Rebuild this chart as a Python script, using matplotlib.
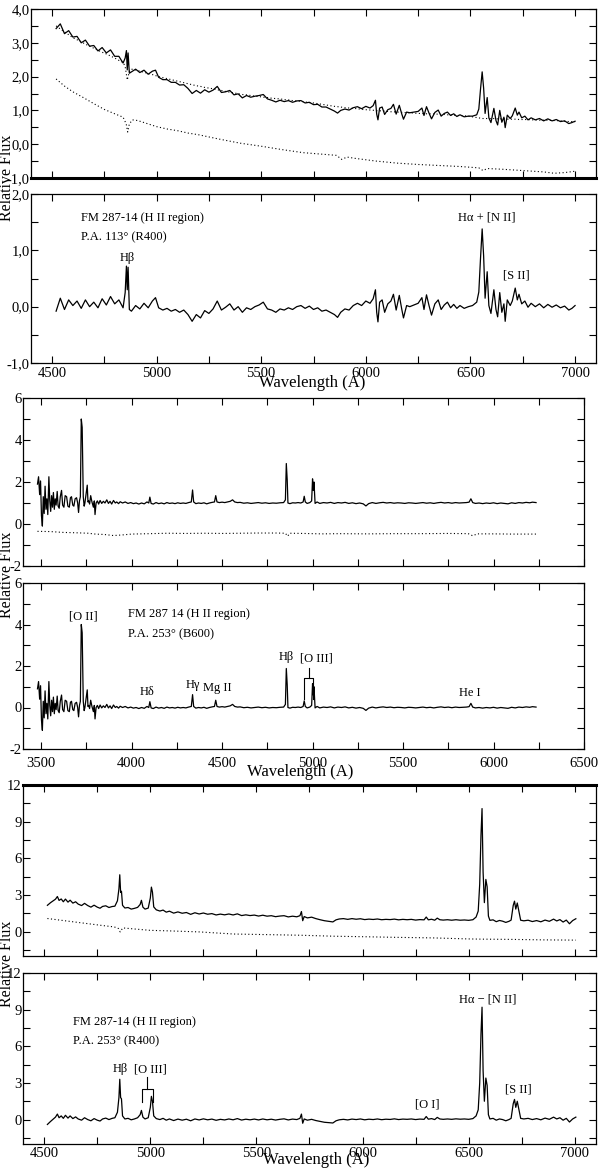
import matplotlib
matplotlib.use("Agg")
import matplotlib.pyplot as plt
import numpy as np
from matplotlib.ticker import MultipleLocator, FuncFormatter

plt.rcParams['font.family'] = ['Liberation Serif', 'DejaVu Serif']

# ---------------- group 1 : R400, P.A. 113 ----------------
w1 = [4520, 4540, 4560, 4580, 4600, 4620, 4640, 4660, 4680, 4700,
      4720, 4740, 4760, 4780, 4800, 4820, 4840, 4850, 4856, 4860,
      4864, 4870, 4880, 4900, 4920, 4940, 4960, 4980, 4995, 5010,
      5030, 5050, 5070, 5090, 5110, 5130, 5150, 5170, 5190, 5210,
      5230, 5250, 5270, 5290, 5310, 5330, 5350, 5370, 5390, 5410,
      5430, 5450, 5470, 5490, 5510, 5530, 5550, 5570, 5590, 5610,
      5630, 5650, 5670, 5690, 5710, 5730, 5750, 5770, 5790, 5810,
      5830, 5850, 5865, 5880, 5900, 5920, 5940, 5960, 5980, 6000,
      6020, 6035, 6046, 6052, 6058, 6066, 6078, 6090, 6105, 6120,
      6132, 6145, 6160, 6172, 6180, 6195, 6210, 6230, 6250, 6268,
      6278, 6290, 6302, 6314, 6330, 6346, 6360, 6375, 6390, 6405,
      6420, 6435, 6450, 6470, 6490, 6510, 6530, 6540, 6548, 6556,
      6563, 6570, 6580, 6588, 6598, 6612, 6622, 6630, 6640, 6650,
      6660, 6666, 6676, 6690, 6700, 6714, 6724, 6732, 6745, 6760,
      6775, 6790, 6810, 6830, 6850, 6870, 6890, 6910, 6930, 6950,
      6970, 6985, 7000]
# residual spectrum (lower panel)
res1 = [-0.08, 0.15, -0.05, 0.12, 0.02, 0.10, -0.03, 0.12, 0.00, 0.08,
        -0.02, 0.14, 0.03, 0.18, 0.05, 0.12, -0.02, 0.25, 0.72, 0.30,
        0.70, -0.05, -0.08, 0.02, -0.04, 0.06, -0.02, 0.10, 0.16, -0.02,
        -0.06, -0.03, -0.08, -0.05, -0.10, -0.06, -0.14, -0.26, -0.14, -0.20,
        -0.07, -0.12, -0.04, 0.10, -0.06, -0.01, 0.05, -0.06, 0.00, -0.10,
        -0.02, -0.05, 0.00, 0.03, 0.08, -0.04, -0.06, -0.10, -0.04, -0.06,
        -0.02, -0.05, 0.00, 0.02, -0.03, 0.01, -0.05, -0.02, -0.08, -0.06,
        -0.10, -0.14, -0.19, -0.10, -0.04, -0.06, 0.02, 0.06, 0.02, 0.10,
        0.06, 0.14, 0.30, -0.10, -0.27, 0.08, 0.12, -0.10, 0.05, 0.10,
        0.22, -0.06, 0.20, -0.05, -0.20, 0.02, 0.00, 0.03, 0.06, 0.16,
        -0.05, 0.21, 0.02, -0.15, 0.05, 0.12, -0.05, 0.03, 0.08, -0.02,
        0.04, -0.03, 0.02, -0.03, 0.00, 0.02, 0.08, 0.26, 0.85, 1.38,
        0.90, 0.15, 0.62, 0.02, -0.12, 0.30, -0.05, -0.18, 0.25, -0.10,
        0.05, -0.26, 0.12, 0.02, 0.10, 0.33, 0.12, 0.22, 0.05, 0.10,
        -0.01, 0.06, 0.00, 0.05, -0.02, 0.04, -0.01, 0.03, -0.02, 0.01,
        -0.06, -0.03, 0.02]
# fitted template (dotted curve over the observed spectrum)
fit1 = [3.50, 3.41, 3.32, 3.24, 3.15, 3.09, 3.03, 2.96, 2.90, 2.84,
        2.78, 2.72, 2.67, 2.61, 2.55, 2.48, 2.42, 2.30, 2.05, 1.90,
        2.00, 2.15, 2.22, 2.20, 2.16, 2.13, 2.09, 2.06, 2.03, 2.00,
        1.97, 1.94, 1.91, 1.88, 1.85, 1.82, 1.79, 1.76, 1.73, 1.71,
        1.68, 1.66, 1.64, 1.61, 1.59, 1.56, 1.54, 1.52, 1.49, 1.47,
        1.46, 1.44, 1.42, 1.41, 1.39, 1.38, 1.36, 1.35, 1.34, 1.32,
        1.31, 1.29, 1.28, 1.27, 1.25, 1.23, 1.22, 1.20, 1.18, 1.16,
        1.14, 1.12, 1.11, 1.10, 1.08, 1.07, 1.06, 1.05, 1.03, 1.02,
        1.01, 1.00, 1.00, 0.99, 0.99, 0.99, 0.98, 0.98, 0.97, 0.96,
        0.96, 0.95, 0.95, 0.94, 0.94, 0.93, 0.93, 0.92, 0.91, 0.91,
        0.90, 0.90, 0.90, 0.90, 0.89, 0.89, 0.88, 0.88, 0.87, 0.87,
        0.86, 0.85, 0.85, 0.84, 0.83, 0.81, 0.79, 0.78, 0.77, 0.76,
        0.76, 0.76, 0.76, 0.76, 0.76, 0.76, 0.75, 0.75, 0.75, 0.75,
        0.75, 0.75, 0.74, 0.74, 0.74, 0.74, 0.74, 0.73, 0.73, 0.73,
        0.73, 0.72, 0.72, 0.71, 0.71, 0.71, 0.70, 0.70, 0.69, 0.68,
        0.67, 0.67, 0.66]
# lower dotted template
low1_w = [4520, 4560, 4600, 4650, 4700, 4750, 4800, 4840, 4855, 4862,
          4870, 4885, 4910, 4950, 5000, 5050, 5100, 5150, 5200, 5300,
          5400, 5500, 5600, 5700, 5800, 5860, 5885, 5910, 5950, 6050,
          6150, 6250, 6350, 6450, 6540, 6560, 6580, 6650, 6750, 6850,
          6900, 6950, 7000]
low1 = [1.93, 1.72, 1.55, 1.38, 1.20, 1.03, 0.90, 0.80, 0.60, 0.36,
        0.60, 0.72, 0.70, 0.62, 0.52, 0.45, 0.40, 0.33, 0.28, 0.15,
        0.03, -0.06, -0.16, -0.25, -0.30, -0.33, -0.45, -0.38, -0.42, -0.50,
        -0.56, -0.60, -0.63, -0.66, -0.70, -0.78, -0.72, -0.74, -0.78, -0.82,
        -0.86, -0.84, -0.80]

# ---------------- group 2 : B600, P.A. 253 ----------------
w2 = [3480, 3486, 3492, 3497, 3502, 3507, 3512, 3517, 3522, 3527,
      3532, 3537, 3543, 3548, 3553, 3558, 3563, 3568, 3573, 3578,
      3583, 3589, 3594, 3600, 3606, 3613, 3619, 3626, 3633, 3641,
      3648, 3656, 3662, 3668, 3675, 3681, 3688, 3696, 3702, 3707,
      3712, 3717, 3722, 3727, 3733, 3738, 3742, 3748, 3755, 3759,
      3763, 3768, 3774, 3781, 3789, 3794, 3798, 3804, 3811, 3818,
      3826, 3835, 3844, 3853, 3863, 3872, 3881, 3890, 3900, 3910,
      3918, 3928, 3937, 3950, 3965, 3980, 3995, 4010, 4025, 4040,
      4055, 4070, 4085, 4095, 4101, 4108, 4120, 4135, 4150, 4165,
      4180, 4195, 4210, 4225, 4240, 4255, 4270, 4285, 4300, 4315,
      4330, 4337, 4343, 4355, 4370, 4385, 4400, 4415, 4430, 4445,
      4458, 4465, 4472, 4485, 4500, 4515, 4530, 4545, 4558, 4570,
      4585, 4600, 4620, 4640, 4660, 4680, 4700, 4720, 4740, 4760,
      4780, 4800, 4820, 4840, 4850, 4855, 4860, 4864, 4875, 4890,
      4905, 4920, 4935, 4948, 4954, 4960, 4970, 4985, 4995, 5000,
      5004, 5008, 5014, 5025, 5040, 5060, 5080, 5100, 5120, 5140,
      5160, 5180, 5200, 5220, 5240, 5260, 5280, 5295, 5310, 5330,
      5350, 5370, 5390, 5410, 5430, 5450, 5470, 5490, 5510, 5530,
      5550, 5570, 5590, 5610, 5630, 5650, 5670, 5690, 5710, 5730,
      5750, 5770, 5790, 5810, 5830, 5850, 5865, 5875, 5885, 5900,
      5920, 5940, 5960, 5980, 6000, 6020, 6040, 6060, 6080, 6100,
      6120, 6140, 6160, 6180, 6200, 6215, 6235]
res2 = [0.90, 1.25, 0.40, 1.05, -0.60, -1.10, 0.30, -0.50, 0.80, -0.30,
        0.20, -0.55, 1.25, 0.10, -0.40, 0.35, -0.20, 0.50, -0.30, 0.20,
        -0.10, 0.55, -0.15, -0.25, 0.30, 0.60, -0.10, -0.20, 0.35, 0.30,
        -0.15, -0.20, 0.25, 0.30, -0.10, -0.15, 0.20, 0.25, 0.00, -0.45,
        0.10, 0.30, 4.00, 3.60, 0.30, -0.15, 0.00, 0.40, 0.85, 0.05,
        0.10, -0.05, 0.35, 0.05, -0.20, 0.10, -0.55, 0.00, 0.10, -0.05,
        0.12, -0.02, 0.08, 0.00, 0.15, -0.02, 0.08, -0.05, 0.12, 0.00,
        0.05, -0.03, 0.06, 0.00, 0.05, -0.02, 0.02, -0.03, 0.00, -0.05,
        0.00, -0.04, 0.05, 0.00, 0.28, -0.02, -0.05, 0.02, -0.03, 0.00,
        -0.04, 0.02, -0.02, 0.00, -0.03, 0.01, -0.02, 0.00, -0.02, 0.02,
        0.05, 0.62, 0.05, -0.03, 0.00, -0.02, 0.01, -0.04, 0.00, 0.03,
        0.05, 0.35, 0.05, 0.02, 0.04, 0.02, 0.05, 0.08, 0.15, 0.05,
        0.02, 0.03, -0.01, 0.01, -0.02, 0.00, 0.02, -0.01, 0.01, -0.02,
        0.00, -0.01, 0.01, 0.02, 0.15, 1.88, 1.10, 0.00, -0.03, 0.01,
        0.00, 0.02, 0.00, 0.05, 0.32, 0.05, -0.02, 0.02, 0.10, 1.15,
        0.60, 1.00, -0.02, 0.05, -0.02, 0.02, 0.00, 0.03, -0.02, 0.02,
        0.00, 0.03, -0.02, 0.01, -0.03, 0.00, -0.04, -0.14, -0.03, 0.02,
        -0.02, 0.01, 0.03, 0.00, 0.02, -0.01, 0.01, 0.00, -0.02, 0.01,
        0.00, -0.02, 0.00, 0.02, -0.01, 0.01, -0.02, 0.01, 0.03, 0.00,
        0.02, -0.01, 0.02, 0.00, 0.01, 0.02, 0.04, 0.20, 0.02, -0.02,
        0.00, -0.03, 0.00, -0.02, 0.01, -0.03, 0.00, -0.02, -0.04, 0.01,
        -0.02, 0.02, 0.00, 0.03, 0.01, 0.04, 0.02]
NORM2 = 1.0  # normalised continuum level of the upper B600 panel
dot2_w = [3480, 3550, 3620, 3700, 3760, 3800, 3850, 3900, 3950, 4000,
          4100, 4200, 4300, 4400, 4500, 4600, 4700, 4800, 4850, 4862,
          4875, 4950, 5050, 5150, 5300, 5450, 5600, 5750, 5860, 5885,
          5910, 6000, 6100, 6235]
dot2 = [-0.35, -0.36, -0.40, -0.42, -0.44, -0.48, -0.50, -0.55, -0.52, -0.48,
        -0.46, -0.44, -0.45, -0.44, -0.45, -0.44, -0.43, -0.43, -0.44, -0.58,
        -0.44, -0.45, -0.47, -0.46, -0.47, -0.46, -0.46, -0.45, -0.46, -0.56,
        -0.47, -0.47, -0.48, -0.48]

# ---------------- group 3 : R400, P.A. 253 ----------------
w3 = [4515, 4530, 4543, 4553, 4562, 4570, 4580, 4590, 4600, 4612,
      4622, 4635, 4648, 4660, 4676, 4690, 4705, 4720, 4735, 4750,
      4763, 4775, 4790, 4805, 4820, 4833, 4845, 4852, 4856, 4860,
      4864, 4869, 4880, 4895, 4910, 4925, 4940, 4952, 4958, 4965,
      4975, 4990, 5000, 5005, 5010, 5016, 5028, 5045, 5060, 5075,
      5090, 5110, 5130, 5150, 5170, 5190, 5210, 5230, 5250, 5270,
      5290, 5310, 5330, 5350, 5370, 5390, 5410, 5430, 5450, 5470,
      5490, 5510, 5530, 5550, 5570, 5590, 5610, 5630, 5650, 5670,
      5690, 5705, 5712, 5718, 5725, 5740, 5760, 5780, 5800, 5820,
      5840, 5860, 5875, 5890, 5910, 5930, 5950, 5970, 5990, 6010,
      6030, 6050, 6070, 6090, 6110, 6130, 6150, 6170, 6190, 6210,
      6230, 6250, 6270, 6290, 6300, 6310, 6325, 6340, 6352, 6364,
      6380, 6400, 6420, 6440, 6460, 6480, 6500, 6520, 6535, 6545,
      6552, 6558, 6563, 6568, 6574, 6581, 6587, 6593, 6600, 6615,
      6630, 6645, 6660, 6675, 6690, 6700, 6710, 6716, 6722, 6729,
      6736, 6745, 6760, 6780, 6800, 6820, 6840, 6860, 6880, 6900,
      6915, 6930, 6945, 6960, 6975, 6990, 7005]
res3 = [-0.40, -0.15, 0.05, 0.20, 0.45, 0.15, 0.30, 0.10, 0.35, 0.12,
        0.30, 0.08, 0.22, 0.05, -0.05, 0.15, 0.00, -0.10, 0.08, -0.05,
        -0.12, 0.05, 0.12, 0.00, 0.10, 0.15, 0.60, 1.80, 3.30, 1.80,
        1.70, 0.30, 0.05, 0.10, -0.02, 0.05, 0.15, 0.40, 0.75, 0.20,
        0.05, 0.15, 1.00, 1.90, 1.50, 0.30, 0.08, 0.00, 0.10, -0.05,
        0.05, -0.08, 0.04, -0.05, 0.03, -0.10, 0.05, -0.03, 0.06, -0.02,
        0.04, -0.06, 0.02, -0.03, 0.05, -0.02, 0.08, -0.04, 0.03, -0.02,
        0.04, -0.03, 0.05, -0.02, 0.03, -0.04, 0.02, 0.06, -0.03, 0.04,
        0.00, 0.10, 0.45, -0.30, 0.05, -0.05, 0.02, -0.08, -0.15, -0.22,
        -0.25, -0.28, -0.10, -0.02, 0.02, -0.03, 0.04, 0.00, 0.05, -0.02,
        0.03, 0.00, 0.05, -0.01, 0.03, 0.01, 0.06, 0.00, 0.04, 0.02,
        0.05, 0.00, 0.04, 0.02, 0.25, 0.03, 0.08, 0.00, 0.18, 0.05,
        0.02, 0.05, 0.02, 0.06, 0.03, 0.05, 0.02, 0.08, 0.30, 0.80,
        3.00, 7.00, 9.20, 4.00, 1.50, 3.40, 2.80, 0.40, 0.05, 0.10,
        -0.05, 0.05, 0.00, -0.10, 0.00, 0.10, 1.30, 1.65, 1.00, 1.50,
        0.90, 0.10, 0.05, 0.10, 0.00, 0.08, -0.02, 0.12, 0.02, 0.20,
        0.05, 0.15, -0.05, 0.10, -0.20, 0.05, 0.20]
# continuum under the observed spectrum of the upper R400 panel
cont3 = [2.55, 2.52, 2.48, 2.45, 2.42, 2.40, 2.37, 2.34, 2.31, 2.29,
         2.27, 2.25, 2.22, 2.20, 2.18, 2.16, 2.13, 2.10, 2.08, 2.05,
         2.03, 2.01, 1.99, 1.97, 1.95, 1.93, 1.92, 1.70, 1.35, 1.40,
         1.60, 1.85, 1.88, 1.87, 1.86, 1.85, 1.83, 1.82, 1.81, 1.80,
         1.79, 1.77, 1.75, 1.74, 1.73, 1.72, 1.70, 1.68, 1.66, 1.64,
         1.62, 1.59, 1.57, 1.55, 1.53, 1.51, 1.49, 1.47, 1.46, 1.44,
         1.43, 1.42, 1.41, 1.40, 1.39, 1.38, 1.37, 1.35, 1.34, 1.33,
         1.31, 1.30, 1.29, 1.28, 1.27, 1.26, 1.25, 1.24, 1.23, 1.22,
         1.21, 1.20, 1.19, 1.19, 1.18, 1.17, 1.16, 1.14, 1.12, 1.11,
         1.09, 1.07, 1.06, 1.05, 1.04, 1.03, 1.02, 1.01, 1.00, 1.00,
         0.99, 0.99, 0.98, 0.98, 0.97, 0.97, 0.96, 0.96, 0.96, 0.95,
         0.95, 0.94, 0.94, 0.94, 0.94, 0.93, 0.93, 0.93, 0.92, 0.92,
         0.92, 0.92, 0.91, 0.91, 0.90, 0.90, 0.90, 0.89, 0.89, 0.88,
         0.88, 0.88, 0.87, 0.87, 0.87, 0.87, 0.87, 0.87, 0.87, 0.86,
         0.86, 0.86, 0.85, 0.85, 0.84, 0.84, 0.84, 0.84, 0.84, 0.84,
         0.83, 0.83, 0.83, 0.83, 0.82, 0.82, 0.82, 0.82, 0.82, 0.82,
         0.82, 0.83, 0.83, 0.84, 0.84, 0.85, 0.85]
dot3_w = [4515, 4600, 4700, 4763, 4830, 4850, 4858, 4870, 4920, 5000,
          5100, 5234, 5391, 5550, 5706, 5864, 6000, 6150, 6336, 6493,
          6560, 6700, 6850, 7005]
dot3 = [1.07, 0.88, 0.66, 0.52, 0.38, 0.25, -0.03, 0.30, 0.22, 0.10,
        0.05, -0.03, -0.20, -0.25, -0.30, -0.38, -0.42, -0.47, -0.52, -0.60,
        -0.62, -0.64, -0.68, -0.70]

# ---------------- annotations (text, x, y, ha) ----------------
notes2 = [("FM 287-14 (H II region)", 4640, 1.57, "left"),
          ("P.A. 113° (R400)", 4640, 1.24, "left"),
          ("Hβ", 4862, 0.86, "center"),
          ("Hα + [N II]", 6576, 1.59, "center"),
          ("[S II]", 6719, 0.55, "center")]
notes4 = [("[O II]", 3731, 4.4, "center"),
          ("FM 287 14 (H II region)", 3982, 4.5, "left"),
          ("P.A. 253° (B600)", 3982, 3.54, "left"),
          ("Hδ", 4085, 0.75, "center"),
          ("Hγ", 4339, 1.08, "center"),
          ("Mg II", 4475, 0.94, "center"),
          ("Hβ", 4857, 2.42, "center"),
          ("[O III]", 5020, 2.37, "center"),
          ("He I", 5870, 0.72, "center")]
notes6 = [("FM 287-14 (H II region)", 4636, 7.98, "left"),
          ("P.A. 253° (R400)", 4636, 6.43, "left"),
          ("Hβ", 4858, 4.1, "center"),
          ("[O III]", 4999, 4.1, "center"),
          ("Hα − [N II]", 6590, 9.79, "center"),
          ("[O I]", 6307, 1.25, "center"),
          ("[S II]", 6736, 2.46, "center")]
# [O III] 4959/5007 bracket: stem x, leg x's, stem top, bar, leg bottom
bracket4 = (4982, 4953, 5004, 1.88, 1.40, 0.40)
bracket6 = (4983, 4960, 5012, 3.49, 2.54, 1.44)

# ---------------- figure ----------------
fig = plt.figure(figsize=(6, 11.68), dpi=100)
H = 1168.0
W = 600.0


def px_rect(left, right, top, bottom):
    return [left / W, 1 - bottom / H, (right - left) / W, (bottom - top) / H]


def comma_fmt(v, p):
    return f"{v:.1f}".replace('.', ',')


def int_fmt(v, p):
    return f"{v:.0f}"


def setup(rect, xlim, ylim, ystep, yfmt, show_x, xpad=3):
    ax = fig.add_axes(rect)
    ax.set_xlim(*xlim)
    ax.set_ylim(*ylim)
    ax.xaxis.set_major_locator(MultipleLocator(500))
    ax.xaxis.set_minor_locator(MultipleLocator(250))
    ax.yaxis.set_major_locator(MultipleLocator(ystep))
    ax.yaxis.set_minor_locator(MultipleLocator(ystep / 2))
    ax.yaxis.set_major_formatter(FuncFormatter(yfmt))
    ax.tick_params(which='both', direction='in', top=True, right=True,
                   length=5, width=0.8, labelsize=10.5)
    ax.tick_params(axis='y', pad=1)
    ax.tick_params(axis='x', pad=xpad, labelbottom=show_x)
    for sp in ax.spines.values():
        sp.set_linewidth(0.9)
    return ax


def add_notes(ax, notes):
    for txt, x, y, ha in notes:
        ax.text(x, y, txt, ha=ha, va='center', fontsize=9)


def add_bracket(ax, b):
    stem, xl, xr, top, bar, bot = b
    ax.plot([stem, stem], [top, bar], color='black', lw=0.8)
    ax.plot([xl, xl, xr, xr], [bot, bar, bar, bot], color='black', lw=0.8)


DOT = (0, (1, 2.2))

# group 1
ax1 = setup(px_rect(31, 596, 9, 178), (4400, 7100), (-1, 4), 1.0, comma_fmt, False)
ax1.spines['bottom'].set_linewidth(2.2)
obs1 = np.array(fit1) + np.array(res1)
ax1.plot(w1, fit1, color='black', lw=0.8, linestyle=DOT)
ax1.plot(w1, obs1, color='black', lw=0.9)
ax1.plot(low1_w, low1, color='black', lw=0.8, linestyle=DOT)

ax2 = setup(px_rect(31, 596, 194, 363), (4400, 7100), (-1, 2), 1.0, comma_fmt, True, xpad=3)
ax2.plot(w1, res1, color='black', lw=0.9)
add_notes(ax2, notes2)

# group 2
ax3 = setup(px_rect(23, 584, 398, 566), (3400, 6500), (-2, 6), 2, int_fmt, False)
ax3.plot(w2, np.array(res2) + NORM2, color='black', lw=0.9)
ax3.plot(dot2_w, dot2, color='black', lw=0.8, linestyle=DOT)

ax4 = setup(px_rect(23, 584, 583, 749), (3400, 6500), (-2, 6), 2, int_fmt, True, xpad=6)
ax4.plot(w2, res2, color='black', lw=0.9)
add_notes(ax4, notes4)
add_bracket(ax4, bracket4)

# group 3
ax5 = setup(px_rect(23, 596, 785, 956), (4400, 7100), (-2, 12), 3, int_fmt, False)
ax5.spines['top'].set_linewidth(2.2)
ax5.plot(w3, np.array(cont3) + np.array(res3), color='black', lw=0.9)
ax5.plot(dot3_w, dot3, color='black', lw=0.8, linestyle=DOT)

ax6 = setup(px_rect(23, 596, 973, 1144), (4400, 7100), (-2, 12), 3, int_fmt, True, xpad=2)
ax6.plot(w3, res3, color='black', lw=0.9)
add_notes(ax6, notes6)
add_bracket(ax6, bracket6)

# shared axis titles
for yc in (178, 575, 964):
    fig.text(7 / W, 1 - yc / H, "Relative Flux", rotation=90,
             ha='center', va='center', fontsize=11.5)
for xc, yc in ((312, 383), (300, 772), (316, 1160)):
    fig.text(xc / W, 1 - yc / H, "Wavelength (A)",
             ha='center', va='center', fontsize=12)

fig.savefig("out.png", dpi=100)
